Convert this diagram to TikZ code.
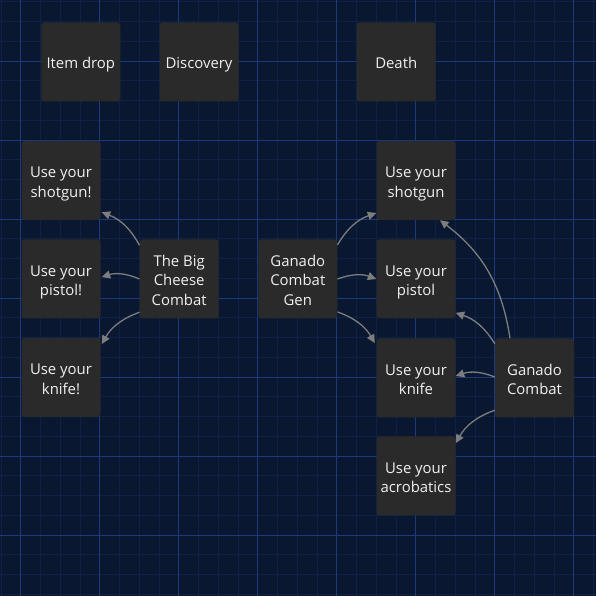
\documentclass[tikz,border=0pt]{standalone}
\usepackage{fontspec}
\setmainfont{Open Sans}
\usetikzlibrary{arrows.meta,calc}
\definecolor{bg}{RGB}{9,24,48}
\definecolor{gminor}{RGB}{15,34,70}
\definecolor{gmajor}{RGB}{28,58,122}
\definecolor{boxc}{RGB}{42,42,42}
\definecolor{edgec}{RGB}{125,125,125}
\definecolor{txt}{RGB}{240,240,240}
\newcommand\TS{\rule{0pt}{19pt}}
\newcommand\BS{\rule[-5pt]{0pt}{5pt}}
\tikzset{
 card/.style={fill=boxc, rounded corners=3pt, minimum width=79pt, minimum height=79pt, inner sep=0pt, text=txt, align=center, font=\fontsize{14.9}{19.8}\selectfont},
 link/.style={draw=edgec, line width=1.3pt, -{Triangle[length=8.5pt,width=8pt]}},
 minorline/.style={gminor, line width=0.8pt},
 majorline/.style={gmajor, line width=0.9pt},
}
\begin{document}
\begin{tikzpicture}[x=1pt,y=1pt]
\fill[bg] (0,0) rectangle (596,596);
\useasboundingbox (0,0) rectangle (596,596);
\begin{scope}
\clip (0,0) rectangle (596,596);
\foreach \i in {0,...,30} {
  \draw[minorline] ({1.05+\i*19.75},0) -- ++(0,596);
  \draw[minorline] (0,{596-1.75-\i*19.75}) -- ++(596,0);
}
\foreach \i in {0,...,7} {
  \draw[majorline] ({20.8+\i*79},0) -- ++(0,596);
  \draw[majorline] (0,{596-61-\i*79}) -- ++(596,0);
}
\end{scope}

\node[card] (drop)  at (80.8,534) {\TS Item drop\BS};
\node[card] (disc)  at (199,534) {\TS Discovery\BS};
\node[card] (death) at (396.2,534) {\TS Death\BS};

\node[card] (sgA) at (61,415.5) {\TS Use your\\shotgun!\BS};
\node[card] (psA) at (61,317) {\TS Use your\\pistol!\BS};
\node[card] (knA) at (61,218.5) {\TS Use your\\knife!\BS};
\node[card] (bc)  at (179.2,317) {\TS The Big\\Cheese\\Combat\BS};

\node[card] (gen) at (297.8,317) {\TS Ganado\\Combat\\Gen\BS};
\node[card] (sgB) at (416,415.5) {\TS Use your\\shotgun\BS};
\node[card] (psB) at (416,317) {\TS Use your\\pistol\BS};
\node[card] (knB) at (416,218) {\TS Use your\\knife\BS};
\node[card] (gc)  at (534.5,218) {\TS Ganado\\Combat\BS};
\node[card] (acro) at (416,120) {\TS Use your\\acrobatics\BS};

\draw[link] ($(bc.north west)+(0,-6)$) to[bend right=20] ($(sgA.south east)+(1,8)$);
\draw[link] (bc.west) to[bend right=20] ($(psA.east)+(1,2)$);
\draw[link] ($(bc.south west)+(0,6.5)$) to[bend right=20] ($(knA.north east)+(1,-6.3)$);

\draw[link] ($(gen.north east)+(0,-5.5)$) to[bend left=20] ($(sgB.south west)+(0,7.2)$);
\draw[link] (gen.east) to[bend left=20] (psB.west);
\draw[link] ($(gen.south east)+(0,6.8)$) to[bend left=20] ($(knB.north west)+(-1.5,-4.8)$);

\draw[link] ($(gc.north)+(-24.5,0)$) to[bend right=22] ($(sgB.south)+(24,0)$);
\draw[link] ($(gc.north west)+(0,-5.5)$) to[bend right=20] ($(psB.south east)+(0,5.8)$);
\draw[link] ($(gc.west)+(0,1)$) to[bend right=20] ($(knB.east)+(0,2)$);
\draw[link] ($(gc.south west)+(0,7.5)$) to[bend right=20] ($(acro.north east)+(0,-6.8)$);
\end{tikzpicture}
\end{document}
